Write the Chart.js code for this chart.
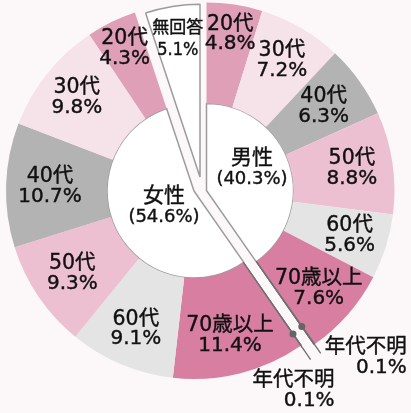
<!DOCTYPE html>
<html lang="ja">
<head>
<meta charset="utf-8">
<title>性別・年代別</title>
<script src="https://cdn.jsdelivr.net/npm/chart.js@4.4.0/dist/chart.umd.min.js"></script>
<style>
    html, body { margin: 0; padding: 0; background: #fcf7f8; }
    #wrap { position: relative; width: 411px; height: 413px; overflow: hidden; background: #fcf7f8; }
    #wrap canvas { position: absolute; left: 0; top: 0; }
</style>
</head>
<body>
<div id="wrap">
    <canvas id="noAnswerChart" width="411" height="413"></canvas>
    <canvas id="femaleChart" width="411" height="413"></canvas>
    <canvas id="maleChart" width="411" height="413"></canvas>
</div>
<script>
// ==================== DATA ====================
const ageLabels = ['20代', '30代', '40代', '50代', '60代', '70歳以上', '年代不明'];
const maleValues = [4.8, 7.2, 6.3, 8.8, 5.6, 7.6, 0.1];
const femaleValues = [4.3, 9.8, 10.7, 9.3, 9.1, 11.4, 0.1];
const genderLabels = ['男性', '女性', '無回答'];
const genderValues = [40.3, 54.6, 5.1];

// ==================== STYLE ====================
const ageColors = ['#df9fb7', '#f6e2e9', '#b3b3b3', '#ecc0d0', '#e4e4e4', '#d87ea1', '#6e6e6e'];
const edgeGray = '#9c9c9c';
const textColor = '#111111';
const clear = 'rgba(0,0,0,0)';
const FONT = '"DejaVu Sans", "Noto Sans CJK JP", sans-serif';
const NARROW_FONT = '"DejaVu Sans Condensed", "Noto Sans CJK JP", sans-serif';
const W = 411, H = 413;

// pie center + radius for each block (male, female, no answer)
const groupGeom = [
    { cx: 206.5, cy: 190.5, r: 188 },
    { cx: 194, cy: 191, r: 188 },
    { cx: 200, cy: 177, r: 173 }
];
const innerWeight = 87;
const ringWeight = 101;
const ageLabelRadius = [158, 150, 144, 147, 150, 149];
const noAnswerLabelRadius = 139;
const innerLabelShift = [[45.5, -21.5], [-30, 16]];
const unknownLeader = [
    { end: 199, dot: 166, tx: 86, ty: -6 },
    { end: 205, dot: 174, tx: 24, ty: 21 }
];

// outer ring runs clockwise: male 20代..年代不明, female 年代不明..20代, 無回答
const ringLabels = ageLabels.concat(ageLabels.slice().reverse(), [genderLabels[2]]);
const ringValues = maleValues.concat(femaleValues.slice().reverse(), [genderValues[2]]);
const ringGroup = ringLabels.map((_, i) => i < 7 ? 0 : (i < 14 ? 1 : 2));
const ringAge = ringLabels.map((_, i) => i < 7 ? i : (i < 14 ? 13 - i : -1));

// ==================== LABELS ====================
function pct(v) { return v.toFixed(1) + '%'; }

function arcPoint(arc, r) {
    const p = arc.getProps(['x', 'y', 'startAngle', 'endAngle'], true);
    const a = (p.startAngle + p.endAngle) / 2;
    return { x: p.x + Math.cos(a) * r, y: p.y + Math.sin(a) * r };
}

// slightly heavier text, closer to the original's glyph weight
function text(ctx, str, x, y, font) {
    ctx.font = font;
    ctx.fillText(str, x, y);
    ctx.strokeText(str, x, y);
}

function twoLines(ctx, top, bottom, x, y, fontTop, fontBottom, gap) {
    text(ctx, top, x, y - gap / 2, fontTop);
    text(ctx, bottom, x, y + gap / 2, fontBottom);
}

const sliceLabels = {
    id: 'sliceLabels',
    afterDatasetsDraw(chart, args, opts) {
        const g = opts.group;
        const ctx = chart.ctx;
        ctx.save();
        ctx.fillStyle = textColor;
        ctx.strokeStyle = textColor;
        ctx.lineWidth = 0.4;
        ctx.textAlign = 'center';
        ctx.textBaseline = 'middle';

        if (g === 2) {
            const p = arcPoint(chart.getDatasetMeta(0).data[2], noAnswerLabelRadius);
            twoLines(ctx, genderLabels[2], pct(genderValues[2]), p.x, p.y,
                '17px ' + NARROW_FONT, '18px ' + NARROW_FONT, 22);
            ctx.restore();
            return;
        }

        const ring = chart.getDatasetMeta(0).data;
        ringLabels.forEach((label, i) => {
            if (ringGroup[i] !== g || ringAge[i] === 6) return;
            const p = arcPoint(ring[i], ageLabelRadius[ringAge[i]]);
            twoLines(ctx, label, pct(ringValues[i]), p.x, p.y, '20.5px ' + FONT, '20px ' + FONT, 20);
        });

        // center label of the gender block
        const inner = chart.getDatasetMeta(1).data[g];
        const c = inner.getProps(['x', 'y'], true);
        twoLines(ctx, genderLabels[g], '(' + pct(genderValues[g]) + ')',
            c.x + innerLabelShift[g][0], c.y + innerLabelShift[g][1],
            '21px ' + FONT, '18px ' + FONT, 20);

        // 年代不明 leader line, dot and label
        const idx = g === 0 ? 6 : 7;
        const L = unknownLeader[g];
        const pr = ring[idx].getProps(['x', 'y', 'startAngle', 'endAngle', 'innerRadius'], true);
        const a = (pr.startAngle + pr.endAngle) / 2;
        const ex = pr.x + Math.cos(a) * L.end;
        const ey = pr.y + Math.sin(a) * L.end;
        ctx.save();
        ctx.strokeStyle = '#6e6e6e';
        ctx.lineWidth = 1.3;
        ctx.beginPath();
        ctx.moveTo(pr.x + Math.cos(a) * pr.innerRadius, pr.y + Math.sin(a) * pr.innerRadius);
        ctx.lineTo(ex, ey);
        ctx.stroke();
        ctx.fillStyle = '#666666';
        ctx.beginPath();
        ctx.arc(pr.x + Math.cos(a) * L.dot, pr.y + Math.sin(a) * L.dot, 3.5, 0, Math.PI * 2);
        ctx.fill();
        ctx.restore();

        ctx.textAlign = 'right';
        text(ctx, ringLabels[idx], ex + L.tx, ey + L.ty, '20.5px ' + FONT);
        text(ctx, pct(ringValues[idx]), ex + L.tx, ey + L.ty + 20, '20px ' + FONT);
        ctx.restore();
    }
};

// ==================== CHARTS ====================
function blockPadding(g) {
    const geo = groupGeom[g];
    const half = geo.r + 0.5;
    return {
        left: geo.cx - half,
        top: geo.cy - half,
        right: W - geo.cx - half,
        bottom: H - geo.cy - half
    };
}

function baseOptions(g) {
    return {
        responsive: false,
        animation: false,
        events: [],
        cutout: 0,
        layout: { padding: blockPadding(g) },
        plugins: {
            legend: { display: false },
            tooltip: { enabled: false },
            sliceLabels: { group: g }
        }
    };
}

function makeGroupChart(id, g) {
    const ctx = document.getElementById(id).getContext('2d');
    return new Chart(ctx, {
        type: 'doughnut',
        data: {
            labels: ringLabels,
            datasets: [
                {
                    data: ringValues,
                    weight: ringWeight,
                    backgroundColor: ringGroup.map((gr, i) => gr === g ? ageColors[ringAge[i]] : clear),
                    borderColor: ringAge.map(a => a === 6 ? ageColors[6] : clear),
                    borderWidth: ringGroup.map((gr, i) => gr === g && ringAge[i] === 6 ? 1 : 0),
                    hoverBorderWidth: 0
                },
                {
                    data: genderValues,
                    weight: innerWeight,
                    backgroundColor: genderValues.map((_, i) => i === g ? '#ffffff' : clear),
                    borderColor: edgeGray,
                    borderWidth: genderValues.map((_, i) => i === g ? 1.5 : 0),
                    hoverBorderWidth: 0
                }
            ]
        },
        options: baseOptions(g),
        plugins: [sliceLabels]
    });
}

function makeNoAnswerChart(id) {
    const ctx = document.getElementById(id).getContext('2d');
    return new Chart(ctx, {
        type: 'pie',
        data: {
            labels: genderLabels,
            datasets: [{
                data: genderValues,
                backgroundColor: genderValues.map((_, i) => i === 2 ? '#ffffff' : clear),
                borderColor: edgeGray,
                borderWidth: genderValues.map((_, i) => i === 2 ? 1.5 : 0),
                hoverBorderWidth: 0
            }]
        },
        options: baseOptions(2),
        plugins: [sliceLabels]
    });
}

makeNoAnswerChart('noAnswerChart');
makeGroupChart('femaleChart', 1);
makeGroupChart('maleChart', 0);
</script>
</body>
</html>
